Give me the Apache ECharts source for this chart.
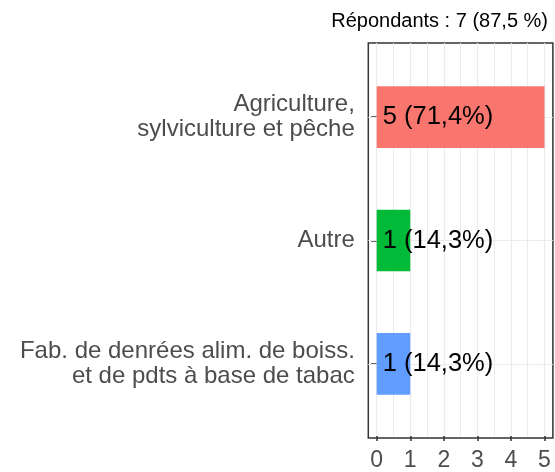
<!DOCTYPE html>
<html>
<head>
<meta charset="utf-8">
<script src="https://cdn.jsdelivr.net/npm/echarts@6/dist/echarts.min.js"></script>
<style>
  html, body { margin: 0; padding: 0; background: #fff; }
  #chart { width: 555px; height: 472px; }
</style>
</head>
<body>
<div id="chart"></div>
<script>
// données
var categories = [
  "Agriculture,\nsylviculture et pêche",
  "Autre",
  "Fab. de denrées alim. de boiss.\net de pdts à base de tabac"
];
var counts = [5, 1, 1];
var percents = ["71,4", "14,3", "14,3"];
var barColors = ["#F8766D", "#00BA38", "#619CFF"];
var xTicks = [0, 5, 1]; // min, max, interval
var titleText = "Répondants : 7 (87,5 %)";

var myChart = echarts.init(document.getElementById("chart"));

var fontFam = "'Liberation Sans', Arial, sans-serif";

myChart.setOption({
  animation: false,
  textStyle: { fontFamily: fontFam },
  title: {
    text: titleText,
    right: 2,
    top: 6,
    textStyle: { fontSize: 20, fontWeight: "normal", color: "#000", fontFamily: fontFam }
  },
  grid: [
    // cadre du panneau
    { left: 368.3, right: 2.1, top: 43, bottom: 34, show: true, borderColor: "#333", borderWidth: 1.5, backgroundColor: "transparent" },
    // axe x et grille verticale
    { left: 376.7, right: 10.5, top: 43, bottom: 34 },
    // barres
    { left: 368.3, right: 2.1, top: 55.3, bottom: 46.3 }
  ],
  xAxis: [
    { gridIndex: 0, type: "value", show: false, min: 0, max: 1 },
    {
      gridIndex: 1,
      type: "value",
      min: xTicks[0],
      max: xTicks[1],
      interval: xTicks[2],
      axisLine: { show: false },
      axisTick: { show: true, length: 5, lineStyle: { color: "#333", width: 1.5 } },
      axisLabel: { fontSize: 23, color: "#4d4d4d", margin: 13 },
      splitLine: { show: true, lineStyle: { color: "#ebebeb", width: 1.2 } },
      minorTick: { show: false, splitNumber: 2 },
      minorSplitLine: { show: true, lineStyle: { color: "#ebebeb", width: 1 } }
    },
    { gridIndex: 2, type: "value", show: false, min: -0.25, max: 5.25 }
  ],
  yAxis: [
    { gridIndex: 0, type: "value", show: false, min: 0, max: 1 },
    { gridIndex: 1, type: "value", show: false, min: 0, max: 1, splitLine: { show: false } },
    {
      gridIndex: 2,
      type: "category",
      inverse: true,
      data: categories,
      axisLine: { show: false },
      axisTick: { show: true, alignWithLabel: true, length: 5.5, lineStyle: { color: "#333", width: 1.5 } },
      axisLabel: { fontSize: 24, color: "#4d4d4d", margin: 13.5, lineHeight: 25, align: "right" },
      splitLine: { show: false }
    }
  ],
  series: [
    {
      // grille horizontale au centre des catégories
      type: "line",
      xAxisIndex: 2,
      yAxisIndex: 2,
      data: [],
      z: 1,
      silent: true,
      markLine: {
        z: 1,
        silent: true,
        symbol: "none",
        label: { show: false },
        lineStyle: { color: "#ebebeb", type: "solid", width: 1.2 },
        data: categories.map(function (c) { return { yAxis: c }; })
      }
    },
    {
      type: "bar",
      xAxisIndex: 2,
      yAxisIndex: 2,
      z: 3,
      barWidth: "50%",
      data: counts.map(function (v, i) {
        return { value: v, itemStyle: { color: barColors[i] } };
      }),
      label: {
        show: true,
        position: "insideLeft",
        distance: 6,
        fontSize: 25.5,
        color: "#000",
        formatter: function (p) {
          return p.value + " (" + percents[p.dataIndex] + "%)";
        }
      }
    }
  ]
});
</script>
</body>
</html>
